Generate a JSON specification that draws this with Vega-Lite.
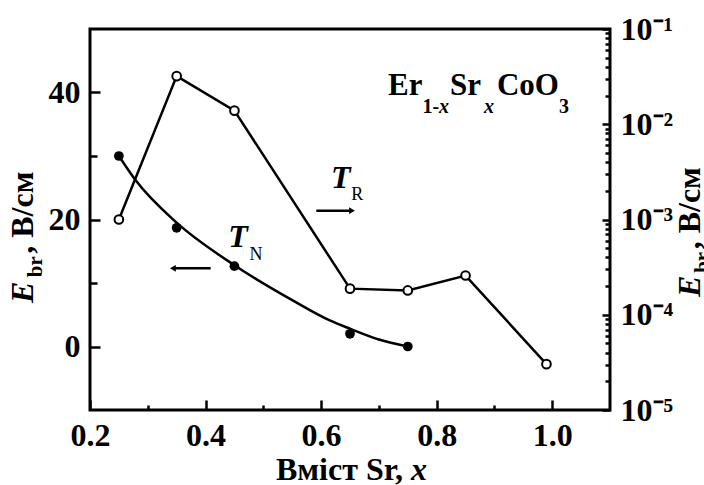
{
  "$schema": "https://vega.github.io/schema/vega-lite/v6.json",
  "width": 520,
  "height": 381,
  "autosize": {"type": "none"},
  "padding": {"left": 90, "top": 29, "right": 94, "bottom": 75},
  "background": "white",
  "config": {
    "view": {"stroke": "black", "strokeWidth": 3},
    "font": "Liberation Serif",
    "axis": {
      "domain": false, "grid": false, "title": null,
      "labelFont": "Liberation Serif", "labelFontWeight": "bold", "labelFontSize": 32,
      "labelColor": "black", "tickColor": "black", "tickWidth": 2.5, "labelOverlap": false, "labelFlush": false
    },
    "text": {"font": "Liberation Serif", "color": "black"}
  },
  "resolve": {"scale": {"y": "independent"}, "axis": {"x": "independent"}},
  "layer": [
    {
      "data": {"values": [
        {"x": 0.25, "y": 30}, {"x": 0.278, "y": 26.3}, {"x": 0.35, "y": 19.5}, {"x": 0.45, "y": 12.8},
        {"x": 0.55, "y": 7.3}, {"x": 0.615, "y": 4.1}, {"x": 0.65, "y": 2.8}, {"x": 0.70, "y": 1.1}, {"x": 0.75, "y": 0}
      ]},
      "mark": {"type": "line", "interpolate": "monotone", "color": "black", "strokeWidth": 2.5},
      "encoding": {
        "x": {"field": "x", "type": "quantitative", "scale": {"domain": [0.2, 1.1], "nice": false, "zero": false},
              "axis": {"orient": "bottom", "values": [0.3, 0.5, 0.7, 0.9], "tickSize": -5, "labels": false}},
        "y": {"field": "y", "type": "quantitative", "scale": {"domain": [-10, 50], "nice": false, "zero": false},
              "axis": {"orient": "left", "values": [10, 30], "tickSize": -7, "labels": false}}
      }
    },
    {
      "data": {"values": [
        {"x": 0.25, "y": 30}, {"x": 0.35, "y": 18.7}, {"x": 0.45, "y": 12.65}, {"x": 0.65, "y": 2.0}, {"x": 0.75, "y": 0.0}
      ]},
      "mark": {"type": "point", "shape": "circle", "filled": true, "color": "black", "size": 95, "opacity": 1},
      "encoding": {
        "x": {"field": "x", "type": "quantitative", "scale": {"domain": [0.2, 1.1], "nice": false, "zero": false},
              "axis": {"orient": "bottom", "values": [0.2, 0.4, 0.6, 0.8, 1.0], "format": ".1f", "tickSize": -10, "labelPadding": 20, "labelAlign": "center", "labelBaseline": "top"}},
        "y": {"field": "y", "type": "quantitative", "scale": {"domain": [-10, 50], "nice": false, "zero": false},
              "axis": {"orient": "left", "values": [0, 20, 40], "tickSize": -10, "labelPadding": 20, "labelAlign": "right", "labelBaseline": "middle"}}
      }
    },
    {
      "data": {"values": [
        {"x": 0.25, "e": 0.0010}, {"x": 0.35, "e": 0.032}, {"x": 0.45, "e": 0.0139}, {"x": 0.65, "e": 0.000188},
        {"x": 0.75, "e": 0.000180}, {"x": 0.85, "e": 0.000258}, {"x": 0.99, "e": 0.0000303}
      ]},
      "mark": {"type": "line", "color": "black", "strokeWidth": 2.5},
      "encoding": {
        "x": {"field": "x", "type": "quantitative", "scale": {"domain": [0.2, 1.1], "nice": false, "zero": false}, "axis": null},
        "y": {"field": "e", "type": "quantitative", "scale": {"type": "log", "domain": [0.00001, 0.1], "nice": false},
              "axis": {"orient": "right", "tickSize": -5, "labels": false,
                       "values": [0.00002, 0.00003, 0.00004, 0.00005, 0.00006, 0.00007, 0.00008, 0.00009,
                                  0.0002, 0.0003, 0.0004, 0.0005, 0.0006, 0.0007, 0.0008, 0.0009,
                                  0.002, 0.003, 0.004, 0.005, 0.006, 0.007, 0.008, 0.009,
                                  0.02, 0.03, 0.04, 0.05, 0.06, 0.07, 0.08, 0.09]}}
      }
    },
    {
      "data": {"values": [
        {"x": 0.25, "e": 0.0010}, {"x": 0.35, "e": 0.032}, {"x": 0.45, "e": 0.0139}, {"x": 0.65, "e": 0.000188},
        {"x": 0.75, "e": 0.000180}, {"x": 0.85, "e": 0.000258}, {"x": 0.99, "e": 0.0000303}
      ]},
      "mark": {"type": "point", "shape": "circle", "filled": true, "fill": "white", "stroke": "black", "strokeWidth": 2, "size": 75, "opacity": 1},
      "encoding": {
        "x": {"field": "x", "type": "quantitative", "scale": {"domain": [0.2, 1.1], "nice": false, "zero": false}, "axis": null},
        "y": {"field": "e", "type": "quantitative", "scale": {"type": "log", "domain": [0.00001, 0.1], "nice": false},
              "axis": {"orient": "right", "tickSize": -8, "labelPadding": 18, "labelAlign": "left", "labelBaseline": "middle",
                       "values": [0.00001, 0.0001, 0.001, 0.01, 0.1],
                       "labelExpr": "datum.value > 0.05 ? '10⁻¹' : datum.value > 0.005 ? '10⁻²' : datum.value > 0.0005 ? '10⁻³' : datum.value > 0.00005 ? '10⁻⁴' : '10⁻⁵'"}}
      }
    },
    {
      "data": {"values": [
        {"x": 0.5917, "x2": 0.652, "y": 21.39},
        {"x": 0.345, "x2": 0.4089, "y": 12.31}
      ]},
      "mark": {"type": "rule", "color": "black", "strokeWidth": 2.5},
      "encoding": {
        "x": {"field": "x", "type": "quantitative", "scale": {"domain": [0.2, 1.1], "nice": false, "zero": false}, "axis": null},
        "x2": {"field": "x2"},
        "y": {"field": "y", "type": "quantitative", "scale": {"domain": [-10, 50], "nice": false, "zero": false}, "axis": null}
      }
    },
    {
      "data": {"values": [
        {"x": 0.6535, "y": 21.39, "dir": "triangle-right"},
        {"x": 0.3435, "y": 12.31, "dir": "triangle-left"}
      ]},
      "mark": {"type": "point", "filled": true, "color": "black", "size": 45, "opacity": 1},
      "encoding": {
        "x": {"field": "x", "type": "quantitative", "scale": {"domain": [0.2, 1.1], "nice": false, "zero": false}, "axis": null},
        "y": {"field": "y", "type": "quantitative", "scale": {"domain": [-10, 50], "nice": false, "zero": false}, "axis": null},
        "shape": {"field": "dir", "type": "nominal", "scale": {"domain": ["triangle-right", "triangle-left"], "range": ["triangle-right", "triangle-left"]}, "legend": null}
      }
    },
    {
      "data": {"values": [
        {"x": 0.7158, "y": 39.61, "t": "Er"},
        {"x": 0.8231, "y": 39.61, "t": "Sr"},
        {"x": 0.9044, "y": 39.61, "t": "CoO"}
      ]},
      "mark": {"type": "text", "align": "left", "baseline": "alphabetic", "fontSize": 31, "fontWeight": "bold"},
      "encoding": {
        "x": {"field": "x", "type": "quantitative", "scale": {"domain": [0.2, 1.1], "nice": false, "zero": false}, "axis": null},
        "y": {"field": "y", "type": "quantitative", "scale": {"domain": [-10, 50], "nice": false, "zero": false}, "axis": null},
        "text": {"field": "t"}
      }
    },
    {
      "data": {"values": [
        {"x": 0.7753, "y": 36.72, "t": "1-"},
        {"x": 1.0117, "y": 36.72, "t": "3"}
      ]},
      "mark": {"type": "text", "align": "left", "baseline": "alphabetic", "fontSize": 20, "fontWeight": "bold"},
      "encoding": {
        "x": {"field": "x", "type": "quantitative", "scale": {"domain": [0.2, 1.1], "nice": false, "zero": false}, "axis": null},
        "y": {"field": "y", "type": "quantitative", "scale": {"domain": [-10, 50], "nice": false, "zero": false}, "axis": null},
        "text": {"field": "t"}
      }
    },
    {
      "data": {"values": [
        {"x": 0.8042, "y": 36.72, "t": "x"},
        {"x": 0.8819, "y": 36.72, "t": "x"}
      ]},
      "mark": {"type": "text", "align": "left", "baseline": "alphabetic", "fontSize": 20, "fontWeight": "bold", "fontStyle": "italic"},
      "encoding": {
        "x": {"field": "x", "type": "quantitative", "scale": {"domain": [0.2, 1.1], "nice": false, "zero": false}, "axis": null},
        "y": {"field": "y", "type": "quantitative", "scale": {"domain": [-10, 50], "nice": false, "zero": false}, "axis": null},
        "text": {"field": "t"}
      }
    },
    {
      "data": {"values": [
        {"x": 0.4394, "y": 15.72, "t": "T"},
        {"x": 0.617, "y": 24.96, "t": "T"}
      ]},
      "mark": {"type": "text", "align": "left", "baseline": "alphabetic", "fontSize": 32, "fontWeight": "bold", "fontStyle": "italic"},
      "encoding": {
        "x": {"field": "x", "type": "quantitative", "scale": {"domain": [0.2, 1.1], "nice": false, "zero": false}, "axis": null},
        "y": {"field": "y", "type": "quantitative", "scale": {"domain": [-10, 50], "nice": false, "zero": false}, "axis": null},
        "text": {"field": "t"}
      }
    },
    {
      "data": {"values": [
        {"x": 0.476, "y": 13.62, "t": "N"},
        {"x": 0.652, "y": 23.07, "t": "R"}
      ]},
      "mark": {"type": "text", "align": "left", "baseline": "alphabetic", "fontSize": 18},
      "encoding": {
        "x": {"field": "x", "type": "quantitative", "scale": {"domain": [0.2, 1.1], "nice": false, "zero": false}, "axis": null},
        "y": {"field": "y", "type": "quantitative", "scale": {"domain": [-10, 50], "nice": false, "zero": false}, "axis": null},
        "text": {"field": "t"}
      }
    },
    {
      "data": {"values": [
        {"x": 0.1022, "y": 6.85, "t": "E"},
        {"x": 1.2558, "y": 7.80, "t": "E"}
      ]},
      "mark": {"type": "text", "align": "left", "baseline": "alphabetic", "angle": 270, "fontSize": 32, "fontWeight": "bold", "fontStyle": "italic"},
      "encoding": {
        "x": {"field": "x", "type": "quantitative", "scale": {"domain": [0.2, 1.1], "nice": false, "zero": false}, "axis": null},
        "y": {"field": "y", "type": "quantitative", "scale": {"domain": [-10, 50], "nice": false, "zero": false}, "axis": null},
        "text": {"field": "t"}
      }
    },
    {
      "data": {"values": [
        {"x": 0.1169, "y": 10.9, "t": "br"},
        {"x": 1.2714, "y": 11.6, "t": "br"}
      ]},
      "mark": {"type": "text", "align": "left", "baseline": "alphabetic", "angle": 270, "fontSize": 21, "fontWeight": "bold"},
      "encoding": {
        "x": {"field": "x", "type": "quantitative", "scale": {"domain": [0.2, 1.1], "nice": false, "zero": false}, "axis": null},
        "y": {"field": "y", "type": "quantitative", "scale": {"domain": [-10, 50], "nice": false, "zero": false}, "axis": null},
        "text": {"field": "t"}
      }
    },
    {
      "data": {"values": [
        {"x": 0.1022, "y": 14.6, "t": ", В/см"},
        {"x": 1.2558, "y": 15.3, "t": ", В/см"}
      ]},
      "mark": {"type": "text", "align": "left", "baseline": "alphabetic", "angle": 270, "fontSize": 32, "fontWeight": "bold"},
      "encoding": {
        "x": {"field": "x", "type": "quantitative", "scale": {"domain": [0.2, 1.1], "nice": false, "zero": false}, "axis": null},
        "y": {"field": "y", "type": "quantitative", "scale": {"domain": [-10, 50], "nice": false, "zero": false}, "axis": null},
        "text": {"field": "t"}
      }
    },
    {
      "data": {"values": [{"x": 0.7417, "y": -21.02, "t": "Вміст Sr,"}]},
      "mark": {"type": "text", "align": "right", "baseline": "alphabetic", "fontSize": 32, "fontWeight": "bold"},
      "encoding": {
        "x": {"field": "x", "type": "quantitative", "scale": {"domain": [0.2, 1.1], "nice": false, "zero": false}, "axis": null},
        "y": {"field": "y", "type": "quantitative", "scale": {"domain": [-10, 50], "nice": false, "zero": false}, "axis": null},
        "text": {"field": "t"}
      }
    },
    {
      "data": {"values": [{"x": 0.7556, "y": -21.02, "t": "x"}]},
      "mark": {"type": "text", "align": "left", "baseline": "alphabetic", "fontSize": 32, "fontWeight": "bold", "fontStyle": "italic"},
      "encoding": {
        "x": {"field": "x", "type": "quantitative", "scale": {"domain": [0.2, 1.1], "nice": false, "zero": false}, "axis": null},
        "y": {"field": "y", "type": "quantitative", "scale": {"domain": [-10, 50], "nice": false, "zero": false}, "axis": null},
        "text": {"field": "t"}
      }
    }
  ]
}
